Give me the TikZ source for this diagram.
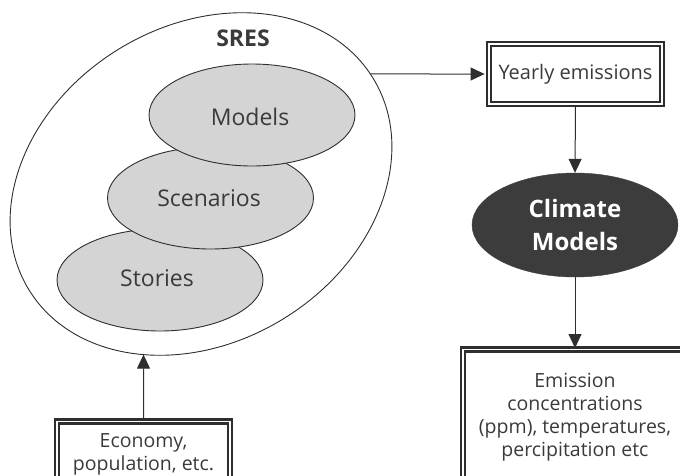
\documentclass[tikz,border=0pt]{standalone}
\usepackage{fontspec}
\setmainfont{Open Sans}
\usetikzlibrary{arrows.meta,shapes.geometric,intersections}

\definecolor{ink}{HTML}{2E2E2E}
\definecolor{txt}{HTML}{3A3A3A}
\definecolor{blob}{HTML}{D4D4D4}
\definecolor{dark}{HTML}{3C3C3C}

\tikzset{
  outline/.style={draw=ink, line width=0.9pt},
  blobnode/.style={ellipse, outline, fill=blob, minimum width=206pt, minimum height=102pt,
    inner sep=0pt, text=txt, font=\fontsize{23}{28}\selectfont},
  dblbox/.style={draw=ink, line width=2.8pt, double=white, double distance=1.2pt,
    inner sep=0pt, align=center, text=txt},
  arrow/.style={draw=ink, line width=1pt, -{Triangle[length=14pt,width=13pt]}},
}

\begin{document}
\begin{tikzpicture}[x=1pt, y=-1pt]
\useasboundingbox (0,0) rectangle (680,475);

% outer SRES ellipse, tilted
\node[name path=sresborder, ellipse, outline, minimum width=404pt, minimum height=316pt,
      inner sep=0pt, rotate=31.7] (sres) at (201,184) {};
\node[text=txt, font=\fontsize{23}{28}\selectfont\bfseries] (sreslabel) at (243,38) {SRES};

% stacked grey ellipses, bottom one first
\node[blobnode] (stories) at (160,280) {};
\node[blobnode] (scenarios) at (210.5,198) {};
\node[blobnode] (models) at (252,115) {};
\node[text=txt, font=\fontsize{23}{28}\selectfont] (storiestext) at (157,278) {Stories};
\node[text=txt, font=\fontsize{23}{28}\selectfont] (scenariostext) at (209,198) {Scenarios};
\node[text=txt, font=\fontsize{23}{28}\selectfont] (modelstext) at (250,117) {Models};

% right column
\node[dblbox, minimum width=173pt, minimum height=60pt,
      font=\fontsize{20}{24}\selectfont] (yearly) at (575.5,74) {Yearly emissions};
\node[ellipse, fill=dark, draw=dark, minimum width=206pt, minimum height=104pt, inner sep=0pt,
      align=center, text=white, font=\fontsize{24}{33}\selectfont\bfseries] (climate) at (575,225)
      {Climate\\Models};
\node[dblbox, anchor=north, minimum width=224pt, minimum height=136pt,
      font=\fontsize{19.5}{23}\selectfont] (emission) at (575,348)
      {Emission\\concentrations\\(ppm), temperatures,\\percipitation etc};

% input box
\node[dblbox, anchor=north, minimum width=173pt, minimum height=66pt,
      font=\fontsize{19.5}{23}\selectfont] (economy) at (143.5,420)
      {Economy,\\population, etc.};

% connectors
\path[name path=hline] (yearly.west) -- ++(-300,0);
\path[name intersections={of=sresborder and hline, by=sresright}];
\draw[arrow] (sresright) -- ([xshift=-3pt]yearly.west);

\draw[arrow] (yearly.south) -- (climate.north);
\draw[arrow] (climate.south) -- (emission.north);

\path[name path=vline] (economy.north) -- ++(0,-150);
\path[name intersections={of=sresborder and vline, by=sresbottom}];
\draw[arrow] (economy.north) -- (sresbottom);
\end{tikzpicture}
\end{document}
